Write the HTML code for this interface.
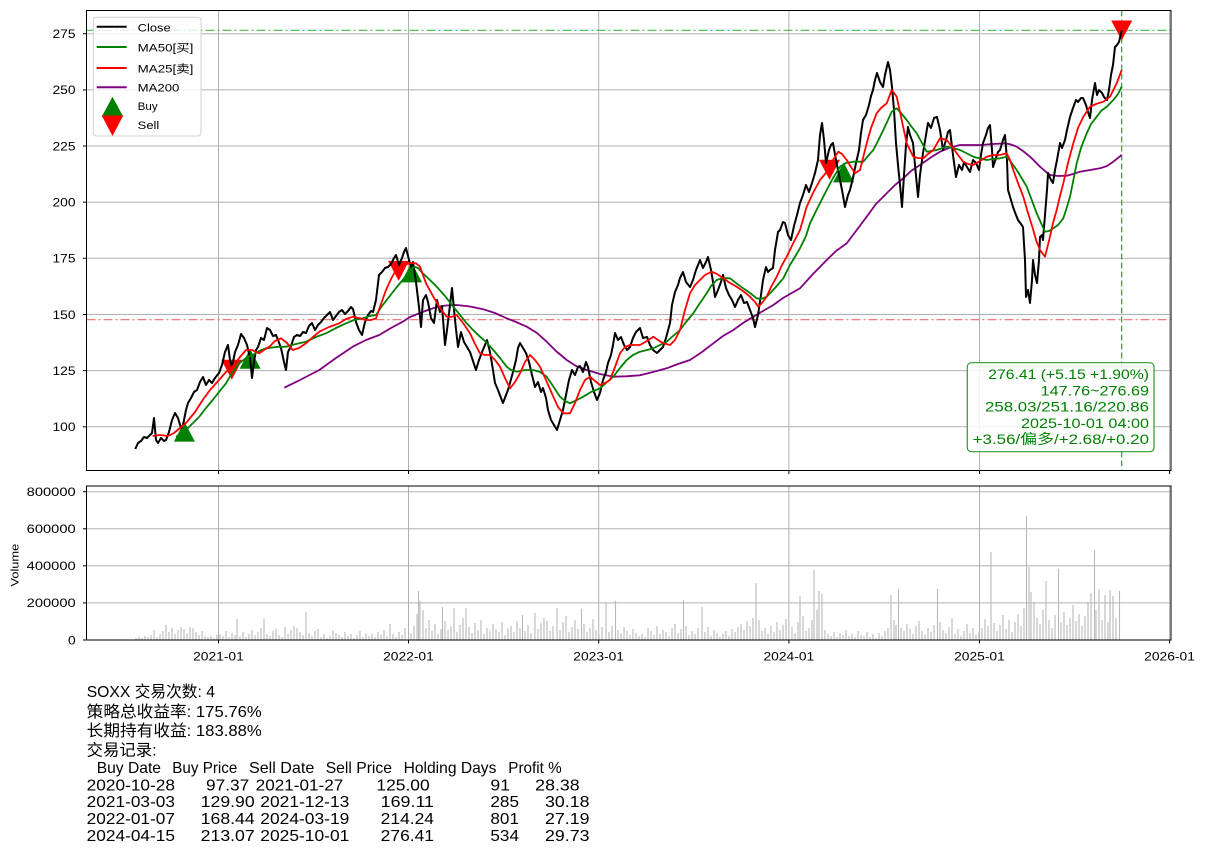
<!DOCTYPE html>
<html><head><meta charset="utf-8"><style>
html,body{margin:0;padding:0;background:#fff;}
svg{display:block;font-family:"Liberation Sans","Noto Sans CJK SC",sans-serif;}
</style></head><body>
<svg width="1206" height="855" viewBox="0 0 1206 855" xmlns="http://www.w3.org/2000/svg">
<rect x="0" y="0" width="1206" height="855" fill="#fff"/>

<!-- ============ MAIN AXES ============ -->
<g stroke="#b0b0b0" stroke-width="1">
  <line x1="86.5" y1="33.7" x2="1171" y2="33.7"/>
  <line x1="86.5" y1="89.9" x2="1171" y2="89.9"/>
  <line x1="86.5" y1="146" x2="1171" y2="146"/>
  <line x1="86.5" y1="202.2" x2="1171" y2="202.2"/>
  <line x1="86.5" y1="258.3" x2="1171" y2="258.3"/>
  <line x1="86.5" y1="314.5" x2="1171" y2="314.5"/>
  <line x1="86.5" y1="370.6" x2="1171" y2="370.6"/>
  <line x1="86.5" y1="426.8" x2="1171" y2="426.8"/>
  <line x1="218.5" y1="10.5" x2="218.5" y2="470.5"/>
  <line x1="408.5" y1="10.5" x2="408.5" y2="470.5"/>
  <line x1="598.7" y1="10.5" x2="598.7" y2="470.5"/>
  <line x1="788.9" y1="10.5" x2="788.9" y2="470.5"/>
  <line x1="979.5" y1="10.5" x2="979.5" y2="470.5"/>
  <line x1="1169.6" y1="10.5" x2="1169.6" y2="470.5"/>
</g>

<!-- reference lines -->
<line x1="86.5" y1="30.3" x2="1171" y2="30.3" stroke="#4cb84c" stroke-width="1.2" stroke-dasharray="9,3,2,3"/>
<line x1="86.5" y1="319.7" x2="1171" y2="319.7" stroke="#ee6a6a" stroke-width="1.2" stroke-dasharray="9,3,2,3"/>
<line x1="1121.7" y1="10.5" x2="1121.7" y2="470.5" stroke="#3a993a" stroke-width="1.2" stroke-dasharray="6,3"/>

<!-- markers -->
<g fill="#008000">
  <polygon points="184.4,421.6 173.9,441.6 194.9,441.6"/>
  <polygon points="250.1,348.7 239.6,368.7 260.6,368.7"/>
  <polygon points="411.6,262.4 401.1,282.4 422.1,282.4"/>
  <polygon points="843.6,162.4 833.1,182.4 854.1,182.4"/>
</g>
<g fill="#ff0000">
  <polygon points="221.3,359.7 242.3,359.7 231.8,379.7"/>
  <polygon points="388.1,260.9 409.1,260.9 398.6,280.9"/>
  <polygon points="819,159.8 840,159.8 829.5,179.8"/>
  <polygon points="1111.2,20.5 1132.2,20.5 1121.7,40.5"/>
</g>

<!-- MA200 -->
<polyline fill="none" stroke="#800080" stroke-width="1.8" stroke-linejoin="round" points="284.3,387.7 300,380 319.3,370 336,358 352.7,346.7 366,340 379.3,335 391,328 402.7,321.7 410,317 419.3,313.3 428,310 436,307.3 446,305.5 456.7,305 470,306.5 483.3,309.3 495,313 506.7,318.3 516,322 526.7,326.7 537,333 546.7,341.7 556,351 566.7,360 576,366 586.7,370 600,374 613.3,376.7 626,376.3 640,375.3 653,372 666.7,368.3 678,364 690,360 702,352 713.3,343.3 723,336 733.3,330 743,323 753.3,316.7 763,311 773.3,305 783,298 790,294 800,288.3 813,274 826.7,260 836,251 846.7,243.3 856,231 866.7,216.7 876,204 886.7,193.3 895,185 903.3,178.3 911,171 920,165 930,158 940,151.7 950,147.5 960,145 970,145 980,145 993,144 1005,143.3 1011,144.5 1016.7,146.7 1023,151 1030,156.7 1035,161.5 1040,166.7 1045,171 1050,175 1058,176 1066.7,175.7 1073,174 1080,171.7 1090,170 1100,168.3 1107,166 1113.3,161.7 1121.7,155"/>

<!-- Close -->
<polyline fill="none" stroke="#000" stroke-width="2" stroke-linejoin="round" points="135.3,449 138,443 141,441 144,437 147,438 150,435 152,433 154,418 156,440 158,443 161,438 164,441 166,440 169,432 172,420 175,413 178,418 181,428 183,425 186,410 188,403 191,398 194,392 197,390 200,382 203,377 206,385 209,380 212,383 215,378 219,373 222,365 225,352 228,345 230,360 232,367 235,352 238,345 241,334 244,338 247,345 250,358 252,378 254,362 256,350 258,347 261,338 264,340 267,328 270,330 273,336 276,335 278,340 281,348 284,362 286,370 288,352 291,346 294,337 297,335 300,336 303,332 306,333 309,326 312,323 315,330 318,325 321,322 324,318 327,315 330,312 333,320 336,316 339,312 342,310 345,314 348,311 351,307 353,309 356,322 359,330 362,335 365,322 368,315 371,311 373,312 376,300 379,275 382,272 385,268 388,267 391,264 394,258 396,255 399,265 402,258 404,252 406,248 408,256 411,267 413,262 416,282 419,307 421,327 423,300 426,295 428,302 431,318 434,323 437,300 440,312 442,306 445,345 447,330 450,305 452,288 455,320 458,347 461,332 464,342 467,347 470,352 473,361 476,370 479,360 482,352 485,345 487,340 490,352 493,370 495,383 498,390 501,398 503,403 506,395 508,390 510,383 513,372 516,360 518,348 520,343 523,348 526,353 529,362 532,375 535,387 538,382 541,392 543,388 546,398 548,410 551,420 554,425 557,430 560,420 563,410 566,395 569,380 572,370 575,375 578,367 580,366 583,372 586,362 588,367 591,382 594,392 597,400 600,393 603,380 606,372 608,363 611,355 613,345 615,333 618,340 621,337 624,345 627,350 630,347 633,338 636,332 640,328 643,338 647,337 650,345 653,350 657,353 660,350 663,347 666,338 670,323 672,305 675,292 678,285 680,278 683,272 686,282 690,287 693,280 696,270 700,260 703,268 706,262 708,257 711,270 713,282 715,297 718,290 721,282 723,275 726,288 729,295 732,300 735,307 738,300 741,295 744,303 747,302 750,310 753,318 755,327 758,315 761,295 763,280 766,267 768,272 770,270 773,268 775,250 778,232 780,230 783,222 785,223 788,235 791,240 794,226 797,215 800,203 803,195 806,185 809,192 812,183 815,173 818,160 820,135 822,123 824,140 826,163 829,150 831,145 833,143 836,160 839,175 842,190 845,207 848,195 850,190 853,178 856,163 859,150 861,133 863,120 866,115 869,105 871,96 873,90 875,80 877,73 880,82 883,87 885,75 888,62 890,70 892,87 894,110 896,143 898,165 900,185 902,207 904,175 906,145 908,127 910,135 913,143 915,165 918,197 920,175 923,153 926,135 928,123 931,128 934,118 937,117 940,130 943,150 946,140 948,132 950,130 953,155 956,177 959,165 962,170 964,162 967,167 970,172 973,160 976,163 979,170 981,155 983,143 986,135 988,128 990,125 992,150 993,167 996,158 998,152 1000,150 1003,140 1005,135 1007,160 1008,190 1011,200 1013,207 1016,215 1018,220 1021,224 1023,227 1025,260 1026,297 1028,290 1030,303 1032,280 1033,260 1035,275 1037,283 1039,260 1040,237 1042,235 1043,240 1045,215 1047,190 1048,173 1051,180 1053,183 1055,170 1057,160 1060,143 1062,148 1065,140 1067,130 1070,117 1073,108 1076,100 1078,102 1081,98 1083,98 1086,105 1088,112 1090,118 1092,100 1095,83 1097,95 1099,90 1102,93 1104,97 1107,100 1109,90 1111,75 1113,65 1115,47 1117,45 1119,42 1121.7,30.5"/>

<!-- MA50 -->
<polyline fill="none" stroke="#008000" stroke-width="1.8" stroke-linejoin="round" points="176,436.7 181,434 186,430 192,424 199.3,416.7 206,408 212.7,400 219,392 226,383.3 232,373 239.3,363.3 246,358 252.7,355 259,351 266,348.3 276,347 286,346.7 296,344 306,341.7 316,337 326,333.3 336,328 346,323.3 354,320 362.7,318.3 370,316 376,315 382,306 389.3,296.7 396,288 402.7,280 408,273 414.3,266.7 418,268 422.7,273.3 429,279 436.7,286.7 445,296 453.3,306.7 460,315 466.7,323.3 473,330 480,336.7 487,343 493.3,350 500,358 506.7,366.7 511,370 516.7,371.7 525,370 533.3,370 540,372 546.7,376.7 553,386 560,396.7 565,401 570,403.3 577,400 583.3,396.7 591,392 600,388.3 606,383 613.3,376.7 620,368 626.7,360 633,355 640,351.7 647,350 653.3,348.3 660,345 666.7,341.7 673,336 680,330 686,322 693.3,313.3 700,303 706.7,293.3 711,286 716.7,280 723,278 730,278.3 736,283 743.3,288.3 750,293 756.7,298.3 761,299 766.7,296.7 775,288 783.3,278.3 790,265 800,248.3 806,236 810,223.3 818,207 826.7,190 833,178 840,166.7 846,163 853.3,161.7 863.3,161.7 868,156 873.3,150 878,141 883.3,130 888,120 891.7,111.7 896.7,108.3 901,113 906.7,120 911,126 916.7,133.3 922,143 926.7,151.7 931,151 936.7,150 946.7,146.7 953,148 960,150 966,153 973.3,156.7 980,158.5 986.7,160 993,159 1000,158.3 1006.7,156.7 1011,162 1016.7,170 1021,177 1026.7,186.7 1031,198 1036.7,213.3 1041,223 1045,231.7 1049,231 1053.3,228.3 1058,225 1063.3,218.3 1066,210 1070,196.7 1073,182 1076.7,163.3 1081,148 1086.7,133.3 1091,124 1096.7,116.7 1101,111 1106.7,106.7 1113.3,100 1118,94 1121.7,86.7"/>

<!-- MA25 -->
<polyline fill="none" stroke="#ff0000" stroke-width="1.8" stroke-linejoin="round" points="152.7,436 160,435 168,436 174,433 180,428 186,423 195,412 202.7,400 210,390 219,380 226,372 232.7,366.7 240,357 246,350 252,350 259.3,353.3 264,350 269.3,346.7 275,341 281,338.3 287,343 292.7,350 299,348 306,343.3 313,337 319.3,331.7 329,327 339.3,323.3 346,319 352.7,316.7 359,318 366,320 371,320 376,318.3 381,304 386,290 391,279 396,270 404.3,265 410,263 416,263.3 420,266.7 426,283.3 433.3,296.7 440,308 446.7,316.7 451,317 456.7,315 463,323 470,333.3 475,344 480,353.3 485,355 490,355 495,360 500,366.7 505,378 510,388.3 515,382 520,373.3 525,362 530,355 535,360 540,366.7 546,380 553.3,396.7 558,407 563.3,413.3 570,413.3 575,403 580,390 585,380 590,376.7 595,381 600,385 605,383 610,380 615,367 620,353.3 625,347 630,345 640,345 647,341 653.3,336.7 658,340 663.3,343.3 670,345 675,340 680,330 685,310 690,293.3 695,285 700,280 705,275 711.7,271.7 717,274 723.3,278.3 730,283 736.7,286.7 743,291 750,296.7 755,302 758.3,306.7 762,303 766.7,296.7 771,287 776.7,276.7 782,265 786.7,256.7 793.3,243 800,230 806.7,206.7 813,193 820,180 828.3,170 833,160 838.3,151.7 842,154 846.7,160 851,167 855,173.3 860,170 866.7,143.3 871,128 876.7,113.3 881,108 886.7,103.3 891.7,90 896.7,96.7 901.7,120 906.7,143.3 913.3,156.7 918,158 923.3,158.3 928,154 933.3,150 940,138.3 946.7,140 953.3,148.3 958,155 963.3,161.7 968,164 973.3,165 980,161 986.7,156.7 993,155 1000,155 1006.7,153.3 1010,160 1013.3,170 1018,183 1023.3,196.7 1028,213 1033.3,230 1036,240 1040,250 1045,256.7 1050,236.7 1053,223 1056.7,210 1060,196 1063.3,183.3 1068,163 1073.3,143.3 1078,128 1083.3,116.7 1090,106.7 1096,104 1103.3,101.7 1110,96.7 1116.7,83.3 1121.7,70"/>

<!-- main frame -->
<rect x="86.5" y="10.5" width="1084.5" height="460" fill="none" stroke="#000" stroke-width="1"/>
<g stroke="#000" stroke-width="1">
  <line x1="83" y1="33.7" x2="86.5" y2="33.7"/>
  <line x1="83" y1="89.9" x2="86.5" y2="89.9"/>
  <line x1="83" y1="146" x2="86.5" y2="146"/>
  <line x1="83" y1="202.2" x2="86.5" y2="202.2"/>
  <line x1="83" y1="258.3" x2="86.5" y2="258.3"/>
  <line x1="83" y1="314.5" x2="86.5" y2="314.5"/>
  <line x1="83" y1="370.6" x2="86.5" y2="370.6"/>
  <line x1="83" y1="426.8" x2="86.5" y2="426.8"/>
  <line x1="218.5" y1="470.5" x2="218.5" y2="474"/>
  <line x1="408.5" y1="470.5" x2="408.5" y2="474"/>
  <line x1="598.7" y1="470.5" x2="598.7" y2="474"/>
  <line x1="788.9" y1="470.5" x2="788.9" y2="474"/>
  <line x1="979.5" y1="470.5" x2="979.5" y2="474"/>
  <line x1="1169.6" y1="470.5" x2="1169.6" y2="474"/>
</g>
<g font-size="12" fill="#000">
  <text x="52.5" y="38" textLength="23" lengthAdjust="spacingAndGlyphs">275</text>
  <text x="52.5" y="94.2" textLength="23" lengthAdjust="spacingAndGlyphs">250</text>
  <text x="52.5" y="150.3" textLength="23" lengthAdjust="spacingAndGlyphs">225</text>
  <text x="52.5" y="206.5" textLength="23" lengthAdjust="spacingAndGlyphs">200</text>
  <text x="52.5" y="262.6" textLength="23" lengthAdjust="spacingAndGlyphs">175</text>
  <text x="52.5" y="318.8" textLength="23" lengthAdjust="spacingAndGlyphs">150</text>
  <text x="52.5" y="374.9" textLength="23" lengthAdjust="spacingAndGlyphs">125</text>
  <text x="52.5" y="431.1" textLength="23" lengthAdjust="spacingAndGlyphs">100</text>
</g>

<!-- legend -->
<rect x="93.3" y="17.3" width="107.7" height="118.7" rx="3" ry="3" fill="#fff" fill-opacity="0.8" stroke="#d0d0d0" stroke-width="1"/>
<line x1="96.7" y1="26.7" x2="126.7" y2="26.7" stroke="#000" stroke-width="2"/>
<line x1="96.7" y1="47" x2="126.7" y2="47" stroke="#008000" stroke-width="2"/>
<line x1="96.7" y1="68" x2="126.7" y2="68" stroke="#ff0000" stroke-width="2"/>
<line x1="96.7" y1="87.3" x2="126.7" y2="87.3" stroke="#800080" stroke-width="2"/>
<polygon points="112.5,96.7 101.7,116.7 123.3,116.7" fill="#008000"/>
<polygon points="101.7,115.5 123.3,115.5 112.5,136" fill="#ff0000"/>
<g font-size="11" fill="#000">
  <text x="137.7" y="31.5" textLength="33" lengthAdjust="spacingAndGlyphs">Close</text>
  <text x="137.7" y="51.5" textLength="55.6" lengthAdjust="spacingAndGlyphs">MA50[买]</text>
  <text x="137.7" y="72.3" textLength="55.6" lengthAdjust="spacingAndGlyphs">MA25[卖]</text>
  <text x="137.7" y="91.3" textLength="41.7" lengthAdjust="spacingAndGlyphs">MA200</text>
  <text x="137.7" y="110" textLength="20" lengthAdjust="spacingAndGlyphs">Buy</text>
  <text x="137.7" y="129" textLength="21.6" lengthAdjust="spacingAndGlyphs">Sell</text>
</g>

<!-- annotation box -->
<rect x="967.3" y="362.7" width="186.7" height="89" rx="4" ry="4" fill="#fff" fill-opacity="0.85" stroke="#2e9a2e" stroke-width="1.2"/>
<g font-size="14" fill="#008000">
  <text x="988.3" y="379" textLength="160.7" lengthAdjust="spacingAndGlyphs">276.41 (+5.15 +1.90%)</text>
  <text x="1040.7" y="395.3" textLength="108.3" lengthAdjust="spacingAndGlyphs">147.76~276.69</text>
  <text x="985" y="411.6" textLength="164" lengthAdjust="spacingAndGlyphs">258.03/251.16/220.86</text>
  <text x="1021" y="427.9" textLength="128" lengthAdjust="spacingAndGlyphs">2025-10-01 04:00</text>
  <text x="972.7" y="444.2" textLength="176.3" lengthAdjust="spacingAndGlyphs">+3.56/偏多/+2.68/+0.20</text>
</g>

<!-- ============ VOLUME AXES ============ -->
<g stroke="#b0b0b0" stroke-width="1">
  <line x1="86.5" y1="491.7" x2="1171" y2="491.7"/>
  <line x1="86.5" y1="528.8" x2="1171" y2="528.8"/>
  <line x1="86.5" y1="565.8" x2="1171" y2="565.8"/>
  <line x1="86.5" y1="602.9" x2="1171" y2="602.9"/>
  <line x1="218.5" y1="486" x2="218.5" y2="640"/>
  <line x1="408.5" y1="486" x2="408.5" y2="640"/>
  <line x1="598.7" y1="486" x2="598.7" y2="640"/>
  <line x1="788.9" y1="486" x2="788.9" y2="640"/>
  <line x1="979.5" y1="486" x2="979.5" y2="640"/>
  <line x1="1169.6" y1="486" x2="1169.6" y2="640"/>
</g>
<path fill="none" stroke="#b8b8b8" stroke-width="1.1" d="M136 640V638M139 640V637M142 640V638M145 640V636M148 640V637M151 640V635M154 640V630M157 640V637M160 640V634M163 640V631M166 640V625M169 640V632M172 640V628M175 640V634M178 640V630M181 640V627M184 640V629M187 640V633M190 640V627M193 640V628M196 640V632M199 640V635M202 640V631M205 640V636M208 640V637M211 640V636M214 640V638M217 640V635
M220 640V634M223 640V636M226 640V631M229 640V637M232 640V633M235 640V635M237 640V619M240 640V636M243 640V632M246 640V637M249 640V634M252 640V630M255 640V635M258 640V632M261 640V628M264 640V619M267 640V634M270 640V636M273 640V631M276 640V629M279 640V635M282 640V637M285 640V627M288 640V634M291 640V630M294 640V626M297 640V628M300 640V632M303 640V635M306 640V612M309 640V633M312 640V636M315 640V631M318 640V629M321 640V637M324 640V634M327 640V638M330 640V636M333 640V630M336 640V633M339 640V635M342 640V637M345 640V632M348 640V636M351 640V634M354 640V638M357 640V635M360 640V631M363 640V637M366 640V633M369 640V636M372 640V634M375 640V637M378 640V632M381 640V635M384 640V630M387 640V636M390 640V624M393 640V634M396 640V637M399 640V632M402 640V635M405 640V628
M411 640V633M414 640V626M417 640V614M418.5 640V591M420 640V601M423 640V610M426 640V628M429 640V620M432 640V631M435 640V624M438 640V634M441 640V629M442.5 640V607M445 640V621M448 640V630M451 640V626M454 640V608M457 640V632M460 640V625M463 640V618M466 640V608M469 640V627M472 640V633M475 640V623M478 640V630M481 640V620M484 640V634M487 640V628M490 640V631M493 640V624M496 640V629M499 640V632M502 640V622M505 640V635M508 640V628M511 640V626M514 640V632M517 640V621M520 640V628M522.5 640V615M525 640V631M528 640V625M531 640V633M535 640V613M538 640V629M541 640V623M544 640V618M547 640V621M550 640V631M553 640V626M557 640V608M560 640V630M563 640V622M566 640V616M569 640V632M572 640V627M575 640V620M578 640V629M581.5 640V609M584 640V624M587 640V632M590 640V628M593 640V619M596 640V630M599 640V634
M602 640V627M606 640V603M609 640V632M612 640V626M615.5 640V601M618 640V630M621 640V633M624 640V627M627 640V631M630 640V635M633 640V629M636 640V633M639 640V636M642 640V634M645 640V637M648 640V628M651 640V631M654 640V635M657 640V626M660 640V634M663 640V630M666 640V632M669 640V636M672 640V628M675 640V624M678 640V633M681 640V629M683.5 640V600M686 640V626M689 640V635M692 640V631M695 640V634M698 640V628M702 640V607M705 640V632M708 640V627M711 640V636M714 640V630M717 640V633M720 640V637M723 640V634M726 640V631M729 640V636M732 640V629M735 640V632M738 640V627M741 640V624M744 640V630M747 640V621M750 640V626M753 640V618M756 640V583M759 640V620M762 640V631M765 640V628M768 640V634M771 640V626M774 640V632M777 640V622M780 640V630M783 640V625M786 640V619
M789 640V631M792 640V627M795 640V633M798 640V622M800 640V596M803 640V616M806 640V631M809 640V628M812 640V620M814 640V570M817 640V610M819 640V591M822 640V594M825 640V630M828 640V634M831 640V636M834 640V632M837 640V637M840 640V633M843 640V635M846 640V630M849 640V636M852 640V634M855 640V637M858 640V631M861 640V635M864 640V636M867 640V632M870 640V637M873 640V634M876 640V638M879 640V633M882 640V636M885 640V631M888 640V628M891 640V595M894 640V620M896 640V625M898.5 640V589M901 640V628M904 640V631M907 640V624M910 640V629M913 640V634M916 640V626M919 640V621M922 640V631M925 640V635M928 640V628M931 640V632M934 640V625M937.5 640V589M940 640V622M943 640V630M946 640V633M949 640V627M952 640V618M955 640V634M958 640V629M961 640V636M964 640V631M967 640V624M970 640V633M973 640V628M976 640V635M979 640V632
M982 640V628M985 640V619M988 640V626M991 640V552M994 640V623M997 640V631M1000 640V625M1003 640V615M1006 640V629M1009 640V620M1012 640V632M1015 640V622M1018 640V614M1021 640V626M1024 640V608M1026.5 640V516M1029 640V567M1031 640V592M1034 640V602M1037 640V618M1040 640V624M1043 640V610M1046 640V581M1049 640V620M1052 640V628M1055 640V615M1058.5 640V569M1061 640V622M1064 640V612M1067 640V625M1070 640V618M1073 640V605M1076 640V621M1079 640V614M1082 640V626M1085 640V616M1088 640V602M1091 640V593M1094.5 640V550M1096 640V610M1099 640V589M1102 640V620M1105 640V595M1108 640V622M1110 640V590M1113 640V596M1116 640V618M1119.5 640V591"/>

<rect x="86.5" y="486" width="1084.5" height="154" fill="none" stroke="#000" stroke-width="1"/>
<g stroke="#000" stroke-width="1">
  <line x1="83" y1="491.7" x2="86.5" y2="491.7"/>
  <line x1="83" y1="528.8" x2="86.5" y2="528.8"/>
  <line x1="83" y1="565.8" x2="86.5" y2="565.8"/>
  <line x1="83" y1="602.9" x2="86.5" y2="602.9"/>
  <line x1="83" y1="640" x2="86.5" y2="640"/>
  <line x1="218.5" y1="640" x2="218.5" y2="643.5"/>
  <line x1="408.5" y1="640" x2="408.5" y2="643.5"/>
  <line x1="598.7" y1="640" x2="598.7" y2="643.5"/>
  <line x1="788.9" y1="640" x2="788.9" y2="643.5"/>
  <line x1="979.5" y1="640" x2="979.5" y2="643.5"/>
  <line x1="1169.6" y1="640" x2="1169.6" y2="643.5"/>
</g>
<g font-size="12" fill="#000">
  <text x="26.7" y="496" textLength="49" lengthAdjust="spacingAndGlyphs">800000</text>
  <text x="26.7" y="533.1" textLength="49" lengthAdjust="spacingAndGlyphs">600000</text>
  <text x="26.7" y="570.1" textLength="49" lengthAdjust="spacingAndGlyphs">400000</text>
  <text x="26.7" y="607.2" textLength="49" lengthAdjust="spacingAndGlyphs">200000</text>
  <text x="68" y="644.3" textLength="7.7" lengthAdjust="spacingAndGlyphs">0</text>
  <text x="193.1" y="660.5" textLength="50.7" lengthAdjust="spacingAndGlyphs">2021-01</text>
  <text x="383.1" y="660.5" textLength="50.7" lengthAdjust="spacingAndGlyphs">2022-01</text>
  <text x="573.3" y="660.5" textLength="50.7" lengthAdjust="spacingAndGlyphs">2023-01</text>
  <text x="763.5" y="660.5" textLength="50.7" lengthAdjust="spacingAndGlyphs">2024-01</text>
  <text x="954.1" y="660.5" textLength="50.7" lengthAdjust="spacingAndGlyphs">2025-01</text>
  <text x="1144.2" y="660.5" textLength="50.7" lengthAdjust="spacingAndGlyphs">2026-01</text>
</g>
<text x="0" y="0" font-size="11" fill="#000" transform="translate(18.5,586.5) rotate(-90)" textLength="42.7" lengthAdjust="spacingAndGlyphs">Volume</text>

<!-- ============ BOTTOM TEXT ============ -->
<g font-size="16" fill="#000">
  <text x="86.7" y="697" textLength="128.3" lengthAdjust="spacingAndGlyphs">SOXX 交易次数: 4</text>
  <text x="86.7" y="717" textLength="175" lengthAdjust="spacingAndGlyphs">策略总收益率: 175.76%</text>
  <text x="86.7" y="736" textLength="175" lengthAdjust="spacingAndGlyphs">长期持有收益: 183.88%</text>
  <text x="86.7" y="755.5" textLength="70" lengthAdjust="spacingAndGlyphs">交易记录:</text>

  <text x="96.7" y="773" textLength="64.3" lengthAdjust="spacingAndGlyphs">Buy Date</text>
  <text x="172.3" y="773" textLength="65" lengthAdjust="spacingAndGlyphs">Buy Price</text>
  <text x="249" y="773" textLength="65.3" lengthAdjust="spacingAndGlyphs">Sell Date</text>
  <text x="325.7" y="773" textLength="66.3" lengthAdjust="spacingAndGlyphs">Sell Price</text>
  <text x="403.6" y="773" textLength="92.8" lengthAdjust="spacingAndGlyphs">Holding Days</text>
  <text x="508.3" y="773" textLength="53.4" lengthAdjust="spacingAndGlyphs">Profit %</text>

  <text x="86.7" y="790.5" textLength="88.3" lengthAdjust="spacingAndGlyphs">2020-10-28</text>
  <text x="206" y="790.5" textLength="43.3" lengthAdjust="spacingAndGlyphs">97.37</text>
  <text x="255.7" y="790.5" textLength="87.6" lengthAdjust="spacingAndGlyphs">2021-01-27</text>
  <text x="376.4" y="790.5" textLength="53.3" lengthAdjust="spacingAndGlyphs">125.00</text>
  <text x="490.4" y="790.5" textLength="19.6" lengthAdjust="spacingAndGlyphs">91</text>
  <text x="535.2" y="790.5" textLength="44.5" lengthAdjust="spacingAndGlyphs">28.38</text>

  <text x="86.7" y="807" textLength="88.3" lengthAdjust="spacingAndGlyphs">2021-03-03</text>
  <text x="200.7" y="807" textLength="54" lengthAdjust="spacingAndGlyphs">129.90</text>
  <text x="260.3" y="807" textLength="89" lengthAdjust="spacingAndGlyphs">2021-12-13</text>
  <text x="380.7" y="807" textLength="53.3" lengthAdjust="spacingAndGlyphs">169.11</text>
  <text x="490.4" y="807" textLength="28.6" lengthAdjust="spacingAndGlyphs">285</text>
  <text x="545" y="807" textLength="44.5" lengthAdjust="spacingAndGlyphs">30.18</text>

  <text x="86.7" y="824" textLength="88.3" lengthAdjust="spacingAndGlyphs">2022-01-07</text>
  <text x="200.7" y="824" textLength="54" lengthAdjust="spacingAndGlyphs">168.44</text>
  <text x="260.3" y="824" textLength="89" lengthAdjust="spacingAndGlyphs">2024-03-19</text>
  <text x="380.7" y="824" textLength="53.3" lengthAdjust="spacingAndGlyphs">214.24</text>
  <text x="490.4" y="824" textLength="28.6" lengthAdjust="spacingAndGlyphs">801</text>
  <text x="545" y="824" textLength="44.5" lengthAdjust="spacingAndGlyphs">27.19</text>

  <text x="86.7" y="841" textLength="88.3" lengthAdjust="spacingAndGlyphs">2024-04-15</text>
  <text x="200.7" y="841" textLength="54" lengthAdjust="spacingAndGlyphs">213.07</text>
  <text x="260.3" y="841" textLength="89" lengthAdjust="spacingAndGlyphs">2025-10-01</text>
  <text x="380.7" y="841" textLength="53.3" lengthAdjust="spacingAndGlyphs">276.41</text>
  <text x="490.4" y="841" textLength="28.6" lengthAdjust="spacingAndGlyphs">534</text>
  <text x="545" y="841" textLength="44.5" lengthAdjust="spacingAndGlyphs">29.73</text>
</g>
</svg>
</body></html>
